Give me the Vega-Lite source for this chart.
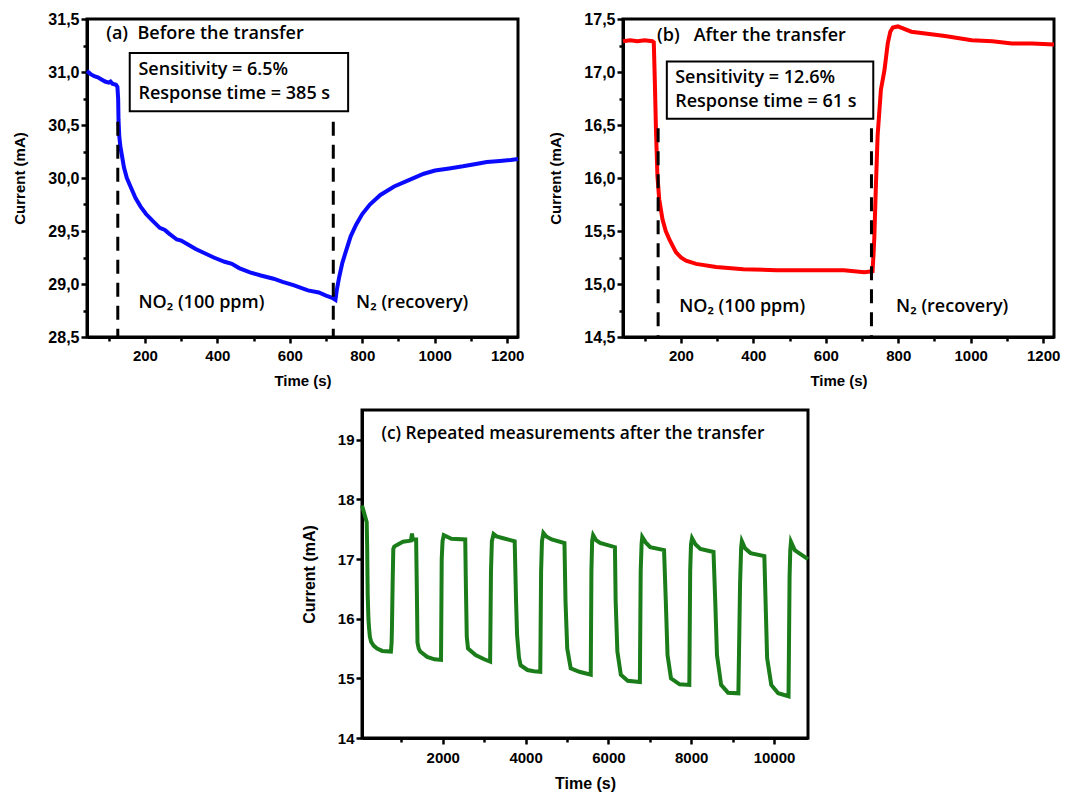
{
  "$schema": "https://vega.github.io/schema/vega-lite/v6.json",
  "background": "white",
  "padding": {"left": 11, "top": 9, "right": 5, "bottom": 5},
  "config": {
    "view": {"stroke": "black", "strokeWidth": 3},
    "axis": {"domainColor": "black", "domainWidth": 3, "tickColor": "black", "tickWidth": 2.5, "grid": false,
      "labelFont": "Liberation Sans", "labelFontWeight": "bold", "labelFontSize": 15, "labelColor": "black",
      "titleFont": "Liberation Sans", "titleFontWeight": "bold", "titleFontSize": 15, "titleColor": "black",
      "labelOverlap": false, "labelFlush": false, "tickCount": 60}
  },
  "datasets": {
    "a": [
      {"t": 40, "I": 31.01}, {"t": 50, "I": 30.98}, {"t": 60, "I": 30.96}, {"t": 70, "I": 30.95}, {"t": 80, "I": 30.93}, {"t": 90, "I": 30.91}, {"t": 100, "I": 30.9}, {"t": 105, "I": 30.91}, {"t": 110, "I": 30.89}, {"t": 120, "I": 30.88}, {"t": 124, "I": 30.86},
      {"t": 126, "I": 30.75}, {"t": 127, "I": 30.55}, {"t": 129, "I": 30.4}, {"t": 132, "I": 30.3}, {"t": 136, "I": 30.22}, {"t": 142, "I": 30.1}, {"t": 150, "I": 30.0}, {"t": 160, "I": 29.92}, {"t": 174, "I": 29.81}, {"t": 188, "I": 29.73}, {"t": 203, "I": 29.66}, {"t": 220, "I": 29.6}, {"t": 241, "I": 29.53}, {"t": 255, "I": 29.51}, {"t": 265, "I": 29.48}, {"t": 288, "I": 29.42}, {"t": 300, "I": 29.41}, {"t": 320, "I": 29.37}, {"t": 340, "I": 29.33}, {"t": 365, "I": 29.29}, {"t": 390, "I": 29.25}, {"t": 420, "I": 29.21}, {"t": 440, "I": 29.19}, {"t": 460, "I": 29.15}, {"t": 490, "I": 29.11}, {"t": 520, "I": 29.08}, {"t": 555, "I": 29.05}, {"t": 580, "I": 29.02}, {"t": 610, "I": 28.99}, {"t": 650, "I": 28.94}, {"t": 680, "I": 28.92}, {"t": 700, "I": 28.89}, {"t": 717, "I": 28.87}, {"t": 726, "I": 28.85},
      {"t": 730, "I": 28.95}, {"t": 736, "I": 29.06}, {"t": 745, "I": 29.2}, {"t": 755, "I": 29.31}, {"t": 768, "I": 29.45}, {"t": 783, "I": 29.56}, {"t": 800, "I": 29.66}, {"t": 821, "I": 29.75}, {"t": 850, "I": 29.84}, {"t": 888, "I": 29.92}, {"t": 935, "I": 29.99}, {"t": 970, "I": 30.04}, {"t": 1001, "I": 30.07}, {"t": 1040, "I": 30.09}, {"t": 1078, "I": 30.11}, {"t": 1110, "I": 30.13}, {"t": 1144, "I": 30.15}, {"t": 1180, "I": 30.16}, {"t": 1210, "I": 30.17}, {"t": 1230, "I": 30.18}
    ],
    "b": [
      {"t": 40, "I": 17.29}, {"t": 60, "I": 17.3}, {"t": 80, "I": 17.29}, {"t": 100, "I": 17.3}, {"t": 121, "I": 17.29}, {"t": 125, "I": 17.28}, {"t": 128, "I": 16.9}, {"t": 131, "I": 16.46}, {"t": 135, "I": 16.02}, {"t": 140, "I": 15.8}, {"t": 149, "I": 15.61}, {"t": 158, "I": 15.5}, {"t": 168, "I": 15.42}, {"t": 186, "I": 15.3}, {"t": 200, "I": 15.25}, {"t": 214, "I": 15.22}, {"t": 242, "I": 15.19}, {"t": 297, "I": 15.16}, {"t": 372, "I": 15.14}, {"t": 465, "I": 15.13}, {"t": 557, "I": 15.13}, {"t": 650, "I": 15.13}, {"t": 706, "I": 15.11}, {"t": 729, "I": 15.12},
      {"t": 732, "I": 15.3}, {"t": 734, "I": 15.45}, {"t": 738, "I": 15.9}, {"t": 743, "I": 16.4}, {"t": 752, "I": 16.83}, {"t": 762, "I": 17.02}, {"t": 771, "I": 17.27}, {"t": 778, "I": 17.38}, {"t": 785, "I": 17.42}, {"t": 799, "I": 17.43}, {"t": 836, "I": 17.38}, {"t": 880, "I": 17.36}, {"t": 929, "I": 17.34}, {"t": 1003, "I": 17.3}, {"t": 1060, "I": 17.29}, {"t": 1114, "I": 17.27}, {"t": 1170, "I": 17.27}, {"t": 1230, "I": 17.26}
    ],
    "c": [
      {"t": 50, "I": 17.9}, {"t": 163, "I": 17.62}, {"t": 175, "I": 17.2}, {"t": 188, "I": 16.39}, {"t": 205, "I": 16.0}, {"t": 221, "I": 15.84}, {"t": 240, "I": 15.7}, {"t": 272, "I": 15.61}, {"t": 330, "I": 15.55}, {"t": 413, "I": 15.5}, {"t": 539, "I": 15.46}, {"t": 748, "I": 15.45},
      {"t": 765, "I": 15.6}, {"t": 773, "I": 15.84}, {"t": 790, "I": 16.6}, {"t": 806, "I": 17.17}, {"t": 830, "I": 17.21}, {"t": 873, "I": 17.23}, {"t": 1040, "I": 17.29}, {"t": 1232, "I": 17.31}, {"t": 1257, "I": 17.43}, {"t": 1275, "I": 17.33}, {"t": 1357, "I": 17.33},
      {"t": 1374, "I": 16.5}, {"t": 1390, "I": 15.6}, {"t": 1420, "I": 15.5}, {"t": 1457, "I": 15.45}, {"t": 1624, "I": 15.36}, {"t": 1800, "I": 15.32}, {"t": 1958, "I": 15.31},
      {"t": 1975, "I": 17.0}, {"t": 1995, "I": 17.3}, {"t": 2025, "I": 17.4}, {"t": 2209, "I": 17.34}, {"t": 2543, "I": 17.33},
      {"t": 2560, "I": 16.5}, {"t": 2580, "I": 15.7}, {"t": 2610, "I": 15.5}, {"t": 2793, "I": 15.39}, {"t": 3000, "I": 15.32}, {"t": 3144, "I": 15.28},
      {"t": 3165, "I": 16.8}, {"t": 3186, "I": 17.3}, {"t": 3227, "I": 17.42}, {"t": 3300, "I": 17.38}, {"t": 3461, "I": 17.35}, {"t": 3737, "I": 17.3},
      {"t": 3770, "I": 16.3}, {"t": 3795, "I": 15.73}, {"t": 3840, "I": 15.35}, {"t": 3879, "I": 15.22}, {"t": 4046, "I": 15.14}, {"t": 4200, "I": 15.12}, {"t": 4355, "I": 15.11},
      {"t": 4375, "I": 16.8}, {"t": 4396, "I": 17.3}, {"t": 4430, "I": 17.44}, {"t": 4500, "I": 17.38}, {"t": 4630, "I": 17.33}, {"t": 4939, "I": 17.27},
      {"t": 4964, "I": 16.3}, {"t": 5006, "I": 15.5}, {"t": 5090, "I": 15.17}, {"t": 5298, "I": 15.11}, {"t": 5574, "I": 15.06},
      {"t": 5590, "I": 16.8}, {"t": 5607, "I": 17.3}, {"t": 5632, "I": 17.4}, {"t": 5700, "I": 17.32}, {"t": 5799, "I": 17.27}, {"t": 6158, "I": 17.2},
      {"t": 6175, "I": 16.3}, {"t": 6217, "I": 15.45}, {"t": 6300, "I": 15.06}, {"t": 6467, "I": 14.96}, {"t": 6760, "I": 14.94},
      {"t": 6780, "I": 16.8}, {"t": 6801, "I": 17.25}, {"t": 6818, "I": 17.37}, {"t": 6900, "I": 17.28}, {"t": 7010, "I": 17.2}, {"t": 7344, "I": 17.15},
      {"t": 7386, "I": 16.3}, {"t": 7428, "I": 15.39}, {"t": 7511, "I": 15.0}, {"t": 7720, "I": 14.9}, {"t": 7954, "I": 14.89},
      {"t": 7975, "I": 16.8}, {"t": 7995, "I": 17.25}, {"t": 8020, "I": 17.35}, {"t": 8100, "I": 17.25}, {"t": 8221, "I": 17.17}, {"t": 8538, "I": 17.12},
      {"t": 8580, "I": 16.3}, {"t": 8622, "I": 15.39}, {"t": 8722, "I": 14.89}, {"t": 8889, "I": 14.76}, {"t": 9139, "I": 14.75},
      {"t": 9180, "I": 16.6}, {"t": 9206, "I": 17.2}, {"t": 9223, "I": 17.3}, {"t": 9300, "I": 17.18}, {"t": 9432, "I": 17.1}, {"t": 9766, "I": 17.05},
      {"t": 9791, "I": 16.4}, {"t": 9833, "I": 15.34}, {"t": 9933, "I": 14.89}, {"t": 10100, "I": 14.75}, {"t": 10350, "I": 14.7},
      {"t": 10375, "I": 16.7}, {"t": 10392, "I": 17.15}, {"t": 10409, "I": 17.29}, {"t": 10500, "I": 17.15}, {"t": 10559, "I": 17.12}, {"t": 10820, "I": 17.0}
    ],
    "a_dash": [{"t": 125, "y1": 30.53, "y2": 28.5}, {"t": 720, "y1": 30.53, "y2": 28.5}],
    "b_dash": [{"t": 137, "y1": 16.47, "y2": 14.5}, {"t": 726, "y1": 16.47, "y2": 14.5}],
    "a_box": [{"t": 158, "t2": 761, "y1": 31.18, "y2": 30.63}],
    "b_box": [{"t": 161, "t2": 731, "y1": 17.1, "y2": 16.56}],
    "a_text": [
      {"t": 93, "I": 31.36, "label": "(a)\u00a0 Before the transfer"},
      {"t": 182, "I": 31.02, "label": "Sensitivity = 6.5%"},
      {"t": 182, "I": 30.79, "label": "Response time = 385 s"},
      {"t": 182, "I": 28.82, "label": "NO₂ (100 ppm)"},
      {"t": 783, "I": 28.82, "label": "N₂ (recovery)"}
    ],
    "b_text": [
      {"t": 134, "I": 17.34, "label": "(b)\u00a0\u00a0 After the transfer"},
      {"t": 184, "I": 16.94, "label": "Sensitivity = 12.6%"},
      {"t": 184, "I": 16.72, "label": "Response time = 61 s"},
      {"t": 195, "I": 14.78, "label": "NO₂ (100 ppm)"},
      {"t": 794, "I": 14.78, "label": "N₂ (recovery)"}
    ],
    "c_text": [
      {"t": 520, "I": 19.1, "label": "(c) Repeated measurements after the transfer"}
    ]
  },
  "vconcat": [
    {
      "hconcat": [
        {
          "width": 431, "height": 318,
          "layer": [
            {"data": {"name": "a"}, "mark": {"type": "line", "color": "#0a0aff", "strokeWidth": 4},
              "encoding": {
                "x": {"field": "t", "type": "quantitative", "scale": {"domain": [40, 1230], "nice": false, "zero": false},
                  "axis": {"title": "Time (s)", "values": [100, 200, 300, 400, 500, 600, 700, 800, 900, 1000, 1100, 1200], "format": "d", "tickCount": 60,
                    "labelExpr": "datum.value % 200 == 0 ? datum.label : ''",
                    "tickSize": {"condition": {"test": "datum.value % 200 == 0", "value": 6}, "value": 4}, "labelPadding": 5, "titlePadding": 10}},
                "y": {"field": "I", "type": "quantitative", "scale": {"domain": [28.5, 31.5], "nice": false, "zero": false},
                  "axis": {"title": "Current (mA)", "values": [28.5, 28.75, 29, 29.25, 29.5, 29.75, 30, 30.25, 30.5, 30.75, 31, 31.25, 31.5], "tickCount": 60,
                    "labelExpr": "abs(datum.value*2 - round(datum.value*2)) < 0.01 ? replace(format(datum.value, '.1f'), '.', ',') : ''",
                    "labelFontSize": 16,
                    "tickSize": {"condition": {"test": "abs(datum.value*2 - round(datum.value*2)) < 0.01", "value": 6}, "value": 4}, "labelPadding": 2, "titlePadding": 20}}
              }},
            {"data": {"name": "a_dash"}, "mark": {"type": "rule", "color": "black", "strokeWidth": 3, "strokeDash": [14, 9]},
              "encoding": {"x": {"field": "t", "type": "quantitative"}, "y": {"field": "y1", "type": "quantitative"}, "y2": {"field": "y2"}}},
            {"data": {"name": "a_box"}, "mark": {"type": "rect", "fill": "white", "stroke": "black", "strokeWidth": 2},
              "encoding": {"x": {"field": "t", "type": "quantitative"}, "x2": {"field": "t2"}, "y": {"field": "y1", "type": "quantitative"}, "y2": {"field": "y2"}}},
            {"data": {"name": "a_text"}, "mark": {"type": "text", "align": "left", "baseline": "middle", "font": "Open Sans", "fontWeight": 600, "fontSize": 18, "color": "black"},
              "encoding": {"x": {"field": "t", "type": "quantitative"}, "y": {"field": "I", "type": "quantitative"}, "text": {"field": "label"}}}
          ]
        },
        {
          "width": 431, "height": 318,
          "layer": [
            {"data": {"name": "b"}, "mark": {"type": "line", "color": "#ff0000", "strokeWidth": 4},
              "encoding": {
                "x": {"field": "t", "type": "quantitative", "scale": {"domain": [40, 1230], "nice": false, "zero": false},
                  "axis": {"title": "Time (s)", "values": [100, 200, 300, 400, 500, 600, 700, 800, 900, 1000, 1100, 1200], "format": "d", "tickCount": 60,
                    "labelExpr": "datum.value % 200 == 0 ? datum.label : ''",
                    "tickSize": {"condition": {"test": "datum.value % 200 == 0", "value": 6}, "value": 4}, "labelPadding": 5, "titlePadding": 10}},
                "y": {"field": "I", "type": "quantitative", "scale": {"domain": [14.5, 17.5], "nice": false, "zero": false},
                  "axis": {"title": "Current (mA)", "values": [14.5, 14.75, 15, 15.25, 15.5, 15.75, 16, 16.25, 16.5, 16.75, 17, 17.25, 17.5], "tickCount": 60,
                    "labelExpr": "abs(datum.value*2 - round(datum.value*2)) < 0.01 ? replace(format(datum.value, '.1f'), '.', ',') : ''",
                    "labelFontSize": 16,
                    "tickSize": {"condition": {"test": "abs(datum.value*2 - round(datum.value*2)) < 0.01", "value": 6}, "value": 4}, "labelPadding": 2, "titlePadding": 20}}
              }},
            {"data": {"name": "b_dash"}, "mark": {"type": "rule", "color": "black", "strokeWidth": 3, "strokeDash": [14, 9]},
              "encoding": {"x": {"field": "t", "type": "quantitative"}, "y": {"field": "y1", "type": "quantitative"}, "y2": {"field": "y2"}}},
            {"data": {"name": "b_box"}, "mark": {"type": "rect", "fill": "white", "stroke": "black", "strokeWidth": 2},
              "encoding": {"x": {"field": "t", "type": "quantitative"}, "x2": {"field": "t2"}, "y": {"field": "y1", "type": "quantitative"}, "y2": {"field": "y2"}}},
            {"data": {"name": "b_text"}, "mark": {"type": "text", "align": "left", "baseline": "middle", "font": "Open Sans", "fontWeight": 600, "fontSize": 18, "color": "black"},
              "encoding": {"x": {"field": "t", "type": "quantitative"}, "y": {"field": "I", "type": "quantitative"}, "text": {"field": "label"}}}
          ]
        }
      ],
      "spacing": 19
    },
    {
      "hconcat": [
        {"width": 212, "height": 10, "data": {"values": [{}]}, "mark": {"type": "point", "opacity": 0}, "view": {"stroke": null}},
        {
          "width": 446, "height": 328,
          "layer": [
            {"data": {"name": "c"}, "mark": {"type": "line", "color": "#1a7d1a", "strokeWidth": 4},
              "encoding": {
                "x": {"field": "t", "type": "quantitative", "scale": {"domain": [50, 10820], "nice": false, "zero": false},
                  "axis": {"title": "Time (s)", "values": [1000, 2000, 3000, 4000, 5000, 6000, 7000, 8000, 9000, 10000], "format": "d", "tickCount": 60,
                    "labelExpr": "datum.value % 2000 == 0 ? datum.label : ''",
                    "tickSize": {"condition": {"test": "datum.value % 2000 == 0", "value": 6}, "value": 4}, "labelPadding": 6, "titlePadding": 10, "titleFontSize": 16}},
                "y": {"field": "I", "type": "quantitative", "scale": {"domain": [14, 19.5], "nice": false, "zero": false},
                  "axis": {"title": "Current (mA)", "values": [14, 14.5, 15, 15.5, 16, 16.5, 17, 17.5, 18, 18.5, 19, 19.5], "format": "d", "tickCount": 60,
                    "labelExpr": "datum.value % 1 == 0 ? datum.label : ''",
                    "tickSize": {"condition": {"test": "datum.value % 1 == 0", "value": 6}, "value": 4}, "labelPadding": 2, "titlePadding": 20, "titleFontSize": 16}}
              }},
            {"data": {"name": "c_text"}, "mark": {"type": "text", "align": "left", "baseline": "middle", "font": "Open Sans", "fontWeight": 600, "fontSize": 17.3, "color": "black"},
              "encoding": {"x": {"field": "t", "type": "quantitative"}, "y": {"field": "I", "type": "quantitative"}, "text": {"field": "label"}}}
          ]
        }
      ],
      "spacing": 0
    }
  ],
  "spacing": 18
}
